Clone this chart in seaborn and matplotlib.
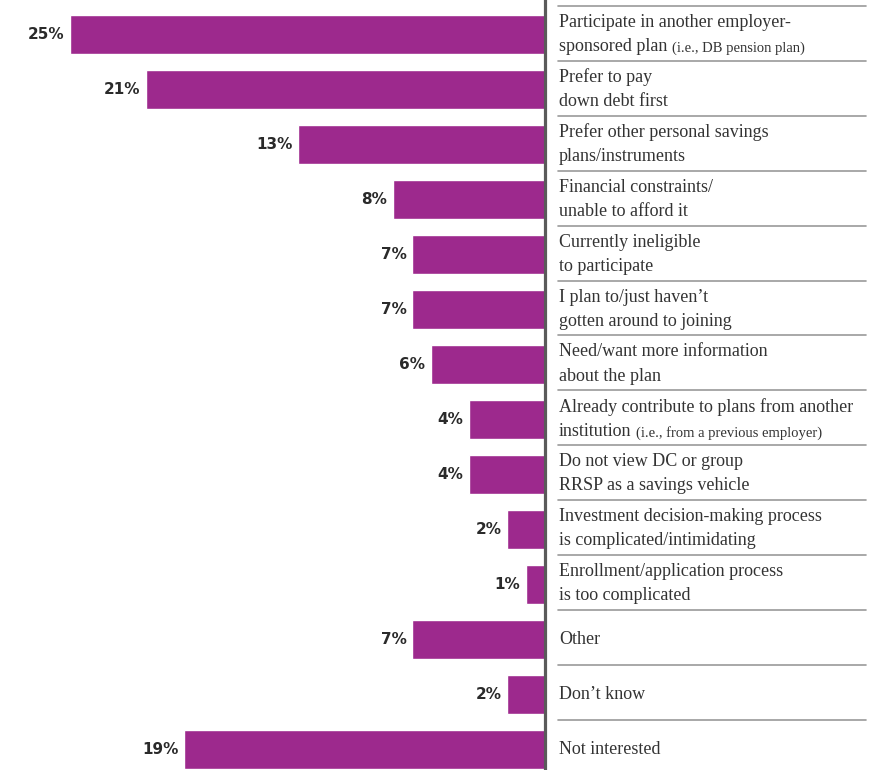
# Reasons for not joining the employer plan - horizontal bars growing left

import pandas as pd
import matplotlib.pyplot as plt
import seaborn as sns

line1 = ["Participate in another employer-", "Prefer to pay", "Prefer other personal savings",
         "Financial constraints/", "Currently ineligible", "I plan to/just haven\u2019t",
         "Need/want more information", "Already contribute to plans from another",
         "Do not view DC or group", "Investment decision-making process",
         "Enrollment/application process", "Other", "Don\u2019t know", "Not interested"]
line2 = ["sponsored plan", "down debt first", "plans/instruments", "unable to afford it",
         "to participate", "gotten around to joining", "about the plan", "institution",
         "RRSP as a savings vehicle", "is complicated/intimidating", "is too complicated",
         "", "", ""]
notes = ["(i.e., DB pension plan)", "", "", "", "", "", "", "(i.e., from a previous employer)",
         "", "", "", "", "", ""]
pct = [25, 21, 13, 8, 7, 7, 6, 4, 4, 2, 1, 7, 2, 19]

df = pd.DataFrame({"reason": [a + " " + b for a, b in zip(line1, line2)], "pct": pct})

bar_color = "#9D298D"
text_color = "#333333"

sns.set_style("white")
fig = plt.figure(figsize=(8.92, 7.7), dpi=100)
ax = fig.add_axes([0, 0, 545 / 892, 1])

sns.barplot(data=df, x="pct", y="reason", color=bar_color, width=0.71,
            saturation=1, ax=ax)

ax.set_xlim(545 / 19, 0)
ax.set_ylim(13.38, -0.637)
ax.set_xlabel("")
ax.set_ylabel("")
ax.set_xticks([])
ax.set_yticks([])
for s in ["top", "bottom", "left"]:
    ax.spines[s].set_visible(False)
ax.spines["right"].set_color("#5a5a5a")
ax.spines["right"].set_linewidth(2.3)

ax.bar_label(ax.containers[0], labels=[f"{v}%" for v in pct], padding=4,
             fontsize=11, fontweight="bold", color="#2a2a2a", family="DejaVu Sans")

trans = ax.get_yaxis_transform()
serif = "Liberation Serif"
fs = 13
for i in range(len(pct)):
    # separator above each row
    ax.plot([1.024, 1.589], [i - 0.53, i - 0.53], transform=trans, color="#9a9a9a",
            lw=1.2, clip_on=False)
    if line2[i]:
        ax.text(1.0257, i - 0.23, line1[i], transform=trans, va="center", ha="left",
                fontsize=fs, family=serif, color=text_color, clip_on=False)
        last = ax.text(1.0257, i + 0.21, line2[i], transform=trans, va="center", ha="left",
                       fontsize=fs, family=serif, color=text_color, clip_on=False)
    else:
        last = ax.text(1.0257, i, line1[i], transform=trans, va="center", ha="left",
                       fontsize=fs, family=serif, color=text_color, clip_on=False)
    if notes[i]:
        ax.annotate(notes[i], xy=(1, 0), xycoords=last, xytext=(3, 0),
                    textcoords="offset points", va="bottom", ha="left",
                    fontsize=10.5, family=serif, color=text_color, annotation_clip=False)

fig.savefig("out.png", dpi=100)
